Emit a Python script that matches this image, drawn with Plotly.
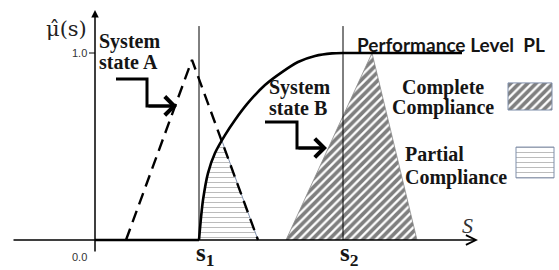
import plotly.graph_objects as go

# ---------------- data ----------------
s_positions = [1.04, 2.48]
s_labels = ["s<sub>1</sub>", "s<sub>2</sub>"]
y_tick_vals = [0.0, 1.0]
y_tick_labels = ["0.0", "1.0"]

# performance level membership curve PL (zero part, rising part, flat part)
pl_zero_x = [0.0, 1.04]
pl_zero_y = [0.0, 0.0]
pl_x = [1.04, 1.06, 1.08, 1.13, 1.20, 1.30, 1.40, 1.53, 1.70, 1.87, 2.03, 2.20, 2.37, 2.48]
pl_y = [0.0, 0.12, 0.214, 0.358, 0.465, 0.561, 0.642, 0.733, 0.829, 0.898, 0.952, 0.984, 0.998, 1.0]
pl_flat_x = [2.48, 3.67]
pl_flat_y = [1.0, 1.0]

# system state A (dashed triangle)
stateA_x = [0.31, 0.97, 1.63]
stateA_y = [0.0, 0.963, 0.0]

# system state B (hatched triangle, complete compliance)
stateB_x = [1.91, 2.77, 3.22]
stateB_y = [0.0, 1.0, 0.0]

# partial compliance region (under PL and state A)
partial_x = [1.04, 1.06, 1.08, 1.13, 1.20, 1.27, 1.63]
partial_y = [0.0, 0.12, 0.214, 0.358, 0.465, 0.53, 0.0]

# ---------------- layout constants ----------------
W, H = 559, 270
XR = [-0.95, 4.64]
YR = [-0.1604, 1.2834]
INK = "#151515"
SERIF = "Liberation Serif"
BORDER = "#7f8fab"

hatch = dict(shape="/", fgcolor="black", bgcolor="white", size=6, solidity=0.62)
dots = dict(shape="-", fgcolor="#6a6a6a", bgcolor="white", size=5, solidity=0.18)

fig = go.Figure()

# complete compliance triangle
fig.add_trace(go.Scatter(x=stateB_x, y=stateB_y, fill="toself", mode="lines",
                         line=dict(color="#8a8a8a", width=0.8), fillpattern=hatch,
                         fillcolor="white", hoverinfo="skip"))
# partial compliance region
fig.add_trace(go.Scatter(x=partial_x, y=partial_y, fill="toself", mode="lines",
                         line=dict(color=BORDER, width=1), fillpattern=dots,
                         fillcolor="white", hoverinfo="skip"))
# performance level curve
fig.add_trace(go.Scatter(x=pl_zero_x, y=pl_zero_y, mode="lines",
                         line=dict(color="black", width=2.6), hoverinfo="skip"))
fig.add_trace(go.Scatter(x=pl_x, y=pl_y, mode="lines",
                         line=dict(color="black", width=2.6, shape="spline", smoothing=0.6),
                         hoverinfo="skip"))
fig.add_trace(go.Scatter(x=pl_flat_x, y=pl_flat_y, mode="lines",
                         line=dict(color="black", width=2.6), hoverinfo="skip"))
# system state A dashed
fig.add_trace(go.Scatter(x=stateA_x, y=stateA_y, mode="lines",
                         line=dict(color="black", width=2.4, dash="12px,7px"),
                         hoverinfo="skip"))

# legend swatches
sw1 = (4.13, 4.57, 0.695, 0.84)
sw2 = (4.21, 4.59, 0.332, 0.497)
for (x0, x1, y0, y1), patt in [(sw1, hatch), (sw2, dots)]:
    fig.add_trace(go.Scatter(x=[x0, x1, x1, x0, x0], y=[y0, y0, y1, y1, y0],
                             fill="toself", mode="lines", fillcolor="white",
                             line=dict(color=BORDER, width=1), fillpattern=patt,
                             hoverinfo="skip"))

# bent arrow bodies
arrowA = ([0.21, 0.52, 0.52, 0.80], [0.861, 0.861, 0.717, 0.717])
arrowB = ([1.70, 2.02, 2.02, 2.30], [0.631, 0.631, 0.492, 0.492])
for ax_, ay_ in [arrowA, arrowB]:
    fig.add_trace(go.Scatter(x=ax_, y=ay_, mode="lines",
                             line=dict(color="black", width=3), hoverinfo="skip"))

shapes = []
# vertical lines at s1 and s2
for sx in s_positions:
    shapes.append(dict(type="line", xref="x", yref="y", x0=sx, x1=sx, y0=0, y1=1.144,
                       line=dict(color="black", width=1)))
# tick at 1.0
shapes.append(dict(type="line", xref="x", yref="y", x0=-0.06, x1=0, y0=1.0, y1=1.0,
                   line=dict(color="black", width=1)))

annotations = []
# axes with arrows
annotations.append(dict(x=0, y=1.23, ax=0, ay=-0.07, xref="x", yref="y", axref="x", ayref="y",
                        showarrow=True, arrowhead=2, arrowsize=1, arrowwidth=1.5,
                        arrowcolor="black", text=""))
annotations.append(dict(x=3.83, y=0, ax=-0.83, ay=0, xref="x", yref="y", axref="x", ayref="y",
                        showarrow=True, arrowhead=5, arrowsize=1.3, arrowwidth=1.5,
                        arrowcolor="black", text=""))
# arrowheads for bent arrows
for ax_, ay_ in [arrowA, arrowB]:
    annotations.append(dict(x=ax_[-1] + 0.02, y=ay_[-1], ax=ax_[-2], ay=ay_[-2],
                            xref="x", yref="y", axref="x", ayref="y",
                            showarrow=True, arrowhead=4, arrowsize=1.2, arrowwidth=3,
                            arrowcolor="black", text=""))

def txt(x, y, t, size, family=SERIF, xanchor="center", color=INK):
    annotations.append(dict(x=x, y=y, xref="x", yref="y", text=t, showarrow=False,
                            xanchor=xanchor, yanchor="middle",
                            font=dict(family=family, size=size, color=color)))

# y tick labels
txt(-0.065, 1.0, y_tick_labels[1], 11, "Liberation Sans", "right", "#333333")
txt(-0.065, -0.091, y_tick_labels[0], 11, "Liberation Sans", "right", "#333333")
# axis labels
txt(-0.29, 1.128, "\u03bc\u0302(s)", 21, "DejaVu Serif", "center", "#222222")
txt(3.72, 0.075, "<i>S</i>", 22, SERIF, "center", "#333333")
for sx, lab in zip(s_positions, s_labels):
    txt(sx + 0.06, -0.08, "<b>" + lab + "</b>", 25, SERIF, "center")

# annotation texts
txt(0.02, 1.064, "<b>System</b>", 20, SERIF, "left")
txt(0.02, 0.952, "<b>state A</b>", 20, SERIF, "left")
txt(1.72, 0.813, "<b>System</b>", 20, SERIF, "left")
txt(1.72, 0.706, "<b>state B</b>", 20, SERIF, "left")
txt(3.48, 0.818, "<b>Complete</b>", 20, SERIF, "center")
txt(3.48, 0.706, "<b>Compliance</b>", 20, SERIF, "center")
txt(3.08, 0.46, "<b>Partial</b>", 20, SERIF, "left")
txt(3.08, 0.332, "<b>Compliance</b>", 20, SERIF, "left")
txt(2.60, 1.043, "<b>Performance Level  PL</b>", 19, "Lato", "left")

fig.update_layout(
    width=W, height=H, autosize=False,
    margin=dict(l=0, r=0, t=0, b=0),
    paper_bgcolor="white", plot_bgcolor="white",
    showlegend=False,
    xaxis=dict(range=XR, visible=False, fixedrange=True),
    yaxis=dict(range=YR, visible=False, fixedrange=True),
    shapes=shapes, annotations=annotations,
)

fig.write_html("out.html", config={"displayModeBar": False},
               post_script="document.body.style.margin='0';document.body.style.overflow='hidden';")
